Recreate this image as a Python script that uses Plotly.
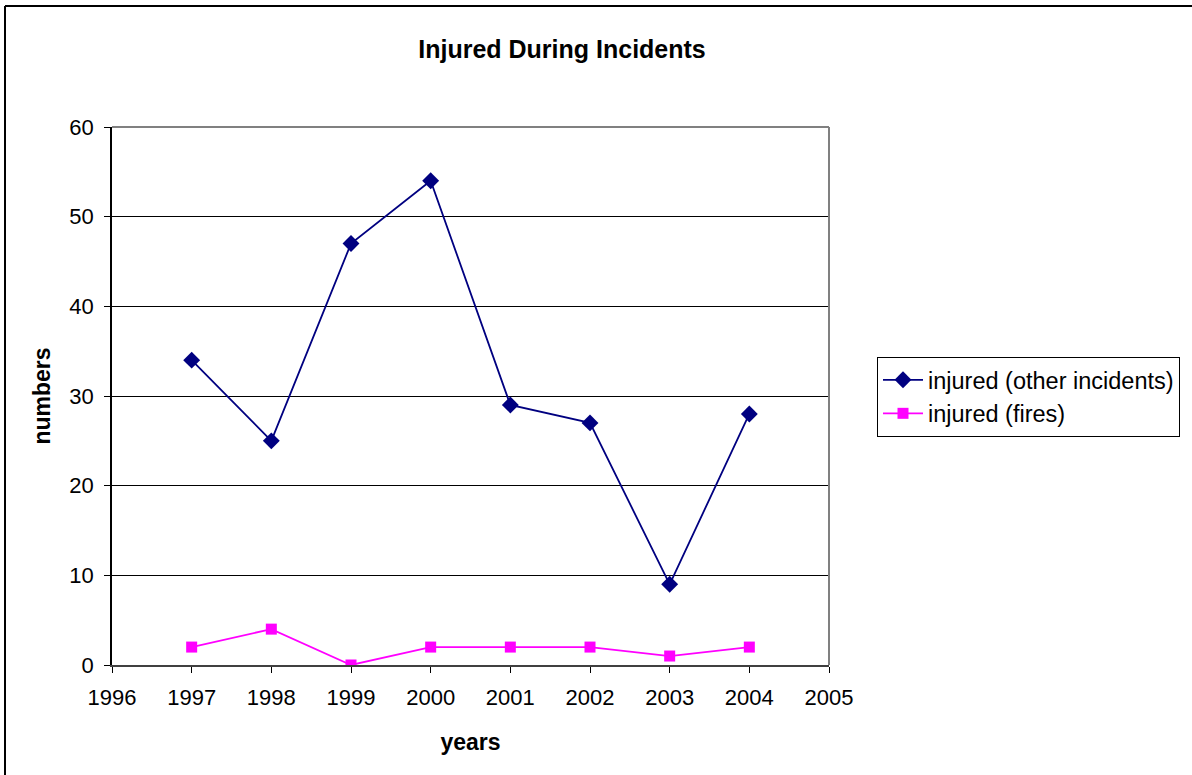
import plotly.graph_objects as go

years = [1997, 1998, 1999, 2000, 2001, 2002, 2003, 2004]
injured_other = [34, 25, 47, 54, 29, 27, 9, 28]
injured_fires = [2, 4, 0, 2, 2, 2, 1, 2]
x_ticks = [1996, 1997, 1998, 1999, 2000, 2001, 2002, 2003, 2004, 2005]
y_ticks = [0, 10, 20, 30, 40, 50, 60]

W, H = 1192, 775
L, R, T, B = 112, 829, 127, 665

fig = go.Figure()
fig.add_trace(go.Scatter(
    x=years, y=injured_other, mode="lines+markers",
    name="injured (other incidents)",
    line=dict(color="#000080", width=1.8),
    marker=dict(symbol="diamond", size=13, color="#000080"),
))
fig.add_trace(go.Scatter(
    x=years, y=injured_fires, mode="lines+markers",
    name="injured (fires)",
    line=dict(color="#ff00ff", width=1.8),
    marker=dict(symbol="square", size=11, color="#ff00ff"),
))

font_family = "Liberation Sans, Arial, sans-serif"

fig.update_layout(
    width=W, height=H,
    margin=dict(l=L, r=W - R, t=T, b=H - B, pad=0),
    paper_bgcolor="white", plot_bgcolor="white",
    font=dict(family=font_family, size=22, color="black"),
    title=dict(text="<b>Injured During Incidents</b>", x=562 / W, xref="container",
               y=1 - 49 / H, yref="container", xanchor="center", yanchor="middle",
               font=dict(size=25)),
    showlegend=True,
    legend=dict(
        x=(877 - L) / (R - L), y=1 - (357 - T) / (B - T), xanchor="left", yanchor="top",
        bordercolor="black", borderwidth=1, bgcolor="white",
        font=dict(size=23.5), tracegroupgap=0, itemwidth=40,
    ),
    xaxis=dict(
        range=[1996, 2005], tickvals=x_ticks, ticktext=[str(v) for v in x_ticks],
        showgrid=False, zeroline=False, ticks="outside", ticklen=6, tickcolor="black",
        ticklabelstandoff=6,
        showline=True, linecolor="#404040", linewidth=2,
        tickfont=dict(size=22),
        title=dict(text="<b>years</b>", font=dict(size=23), standoff=24),
        mirror=False,
    ),
    yaxis=dict(
        range=[0, 60], tickvals=y_ticks,
        showgrid=True, gridcolor="black", gridwidth=1, zeroline=False,
        ticks="outside", ticklen=6, tickcolor="black",
        ticklabelstandoff=6,
        showline=True, linecolor="black", linewidth=1.5,
        tickfont=dict(size=22),
        title=dict(text="<b>numbers</b>", font=dict(size=23), standoff=12),
    ),
)

# right and top plot-area border (gray)
fig.add_shape(type="line", xref="paper", yref="paper", x0=1, x1=1, y0=0, y1=1,
              line=dict(color="#808080", width=2))
fig.add_shape(type="line", xref="paper", yref="paper", x0=0, x1=1, y0=1, y1=1,
              line=dict(color="#808080", width=2))
# outer chart border (top and left visible)
fig.add_shape(type="line", xref="paper", yref="paper",
              x0=(5 - L) / (R - L), x1=(W + 5 - L) / (R - L),
              y0=(B - 6) / (B - T), y1=(B - 6) / (B - T),
              line=dict(color="black", width=2))
fig.add_shape(type="line", xref="paper", yref="paper",
              x0=(5 - L) / (R - L), x1=(5 - L) / (R - L),
              y0=(B - 6) / (B - T), y1=(B - H - 5) / (B - T),
              line=dict(color="black", width=2))

fig.write_html("out.html", config={"displayModeBar": False},
               post_script="document.body.style.margin='0px';")
